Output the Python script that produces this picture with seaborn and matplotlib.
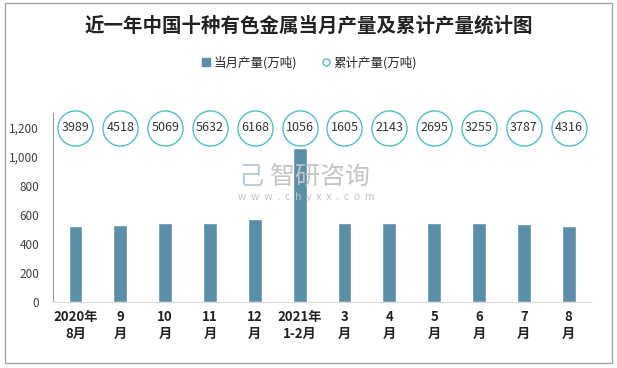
import seaborn as sns
import pandas as pd
import matplotlib
matplotlib.use('Agg')
import matplotlib.pyplot as plt
from matplotlib.patches import Rectangle
from matplotlib.ticker import FuncFormatter, FixedLocator
from matplotlib.lines import Line2D

months = ["2020年\n8月", "9\n月", "10\n月", "11\n月", "12\n月", "2021年\n1-2月",
          "3\n月", "4\n月", "5\n月", "6\n月", "7\n月", "8\n月"]
monthly = [521, 528, 542, 542, 569, 1056, 543, 542, 543, 542, 535, 521]
cumulative = [3989, 4518, 5069, 5632, 6168, 1056, 1605, 2143, 2695, 3255, 3787, 4316]
label_level = [1200] * len(months)

bar_color = "#5b8fa8"
ring_color = "#4fc1c1"

sns.set_style("white")
plt.rcParams['font.family'] = ['Noto Sans CJK SC', 'DejaVu Sans']

df = pd.DataFrame({"month": months, "monthly": monthly})

fig = plt.figure(figsize=(6.17, 3.68), dpi=100)
ax = fig.add_axes([0.086, 0.179, 0.872, 0.514])

sns.barplot(data=df, x="month", y="monthly", color=bar_color, width=0.31,
            saturation=1, ax=ax)

# cumulative values shown as ringed labels
ax.scatter(range(len(months)), label_level, s=640, facecolor="white",
           edgecolor=ring_color, linewidth=1, zorder=3, clip_on=False)
for i, v in enumerate(cumulative):
    ax.text(i, label_level[i], str(v), ha="center", va="center", fontsize=9,
            color="#333333", zorder=4)

ax.set_xlim(-0.5, len(months) - 0.5)
ax.set_ylim(0, 1300)
ax.set_yticks([0, 200, 400, 600, 800, 1000, 1200])
ax.yaxis.set_major_formatter(FuncFormatter(lambda v, p: f"{int(v):,}"))
ax.tick_params(axis="y", length=0, labelsize=8.5, labelcolor="#404040", pad=10)
ax.tick_params(axis="x", which="major", length=0, labelsize=9.5, pad=6)
for lab in ax.get_xticklabels():
    lab.set_fontweight("bold")
    lab.set_color("#222222")
ax.xaxis.set_minor_locator(FixedLocator([i - 0.5 for i in range(len(months) + 1)]))
ax.tick_params(axis="x", which="minor", length=5, color="#d9d9d9", width=1)
ax.set_xlabel("")
ax.set_ylabel("")

for s in ["top", "right"]:
    ax.spines[s].set_visible(False)
ax.spines["left"].set_color("#999999")
ax.spines["bottom"].set_color("#d9d9d9")

# watermark
fig.text(0.437, 0.52, "智研咨询", fontsize=18, color="#c4c4c4", ha="left", va="center", zorder=0)
fig.text(0.386, 0.465, "w  w  w  .  c  h  y  x  x  .  c  o  m", fontsize=7.5, color="#c4c4c4",
         ha="left", va="center", zorder=0)
fig.text(0.386, 0.52, "己", fontsize=18, color="#b8c8e0", ha="left", va="center", zorder=0)

fig.suptitle("近一年中国十种有色金属当月产量及累计产量统计图", y=0.955, fontsize=14,
             fontweight="bold", color="#222222")

handles = [
    Line2D([], [], marker="s", linestyle="", markersize=6, color=bar_color),
    Line2D([], [], marker="o", linestyle="", markersize=5, markerfacecolor="white",
           markeredgecolor=ring_color),
]
fig.legend(handles, ["当月产量(万吨)", "累计产量(万吨)"], loc="center", ncol=2,
           bbox_to_anchor=(0.5, 0.83), frameon=False, fontsize=9, handletextpad=0.1,
           columnspacing=1.8, handlelength=1)

fig.patches.append(Rectangle((0.008, 0.0136), 0.984, 0.978, transform=fig.transFigure,
                             fill=False, edgecolor="#a6a6a6", linewidth=1))

fig.savefig("out.png", dpi=100)
